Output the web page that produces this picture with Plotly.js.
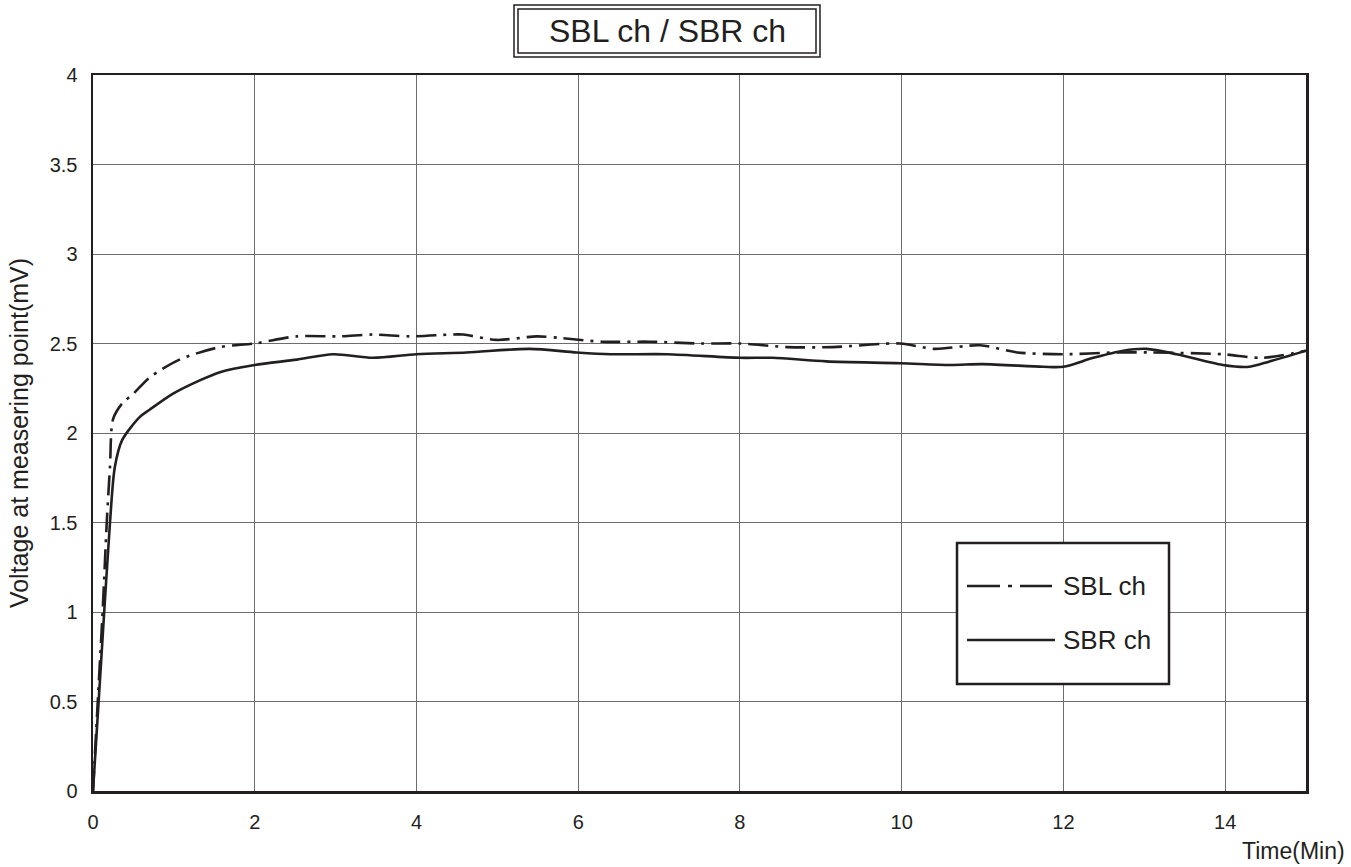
<!DOCTYPE html>
<html>
<head>
<meta charset="utf-8">
<script src="https://cdn.plot.ly/plotly-3.0.1.min.js"></script>
<style>
html,body{margin:0;padding:0;background:#fff;}
#chart{width:1351px;height:867px;}
</style>
</head>
<body>
<div id="chart"></div>
<script>
// SBL ch (dash-dot)
const sblTime = [0, 0.06, 0.12, 0.17, 0.21, 0.25, 0.37, 0.5, 0.7, 1.07, 1.57, 2.0, 2.52, 3.05, 3.46, 3.92, 4.42, 4.58, 4.99, 5.49, 5.8, 6.3, 6.89, 7.5, 8.0, 8.58, 9.15, 9.98, 10.4, 10.97, 11.43, 12.0, 12.66, 13.07, 13.97, 14.46, 15];
const sblVolt = [0, 0.51, 1.01, 1.5, 1.81, 2.08, 2.17, 2.22, 2.31, 2.41, 2.48, 2.50, 2.54, 2.54, 2.55, 2.54, 2.55, 2.55, 2.52, 2.54, 2.53, 2.51, 2.51, 2.50, 2.50, 2.48, 2.48, 2.50, 2.47, 2.49, 2.45, 2.44, 2.45, 2.45, 2.44, 2.42, 2.46];
// SBR ch (solid)
const sbrTime = [0, 0.1, 0.21, 0.27, 0.36, 0.58, 0.7, 0.99, 1.3, 1.57, 2.0, 2.52, 2.97, 3.46, 4.0, 4.62, 5.4, 5.98, 6.4, 7.1, 8.0, 8.4, 9.07, 9.98, 10.6, 11.0, 11.75, 12.0, 12.37, 12.74, 13.03, 13.4, 13.97, 14.3, 14.55, 15];
const sbrVolt = [0, 0.72, 1.5, 1.81, 1.96, 2.09, 2.13, 2.22, 2.29, 2.34, 2.38, 2.41, 2.44, 2.42, 2.44, 2.45, 2.47, 2.45, 2.44, 2.44, 2.42, 2.42, 2.40, 2.39, 2.38, 2.385, 2.37, 2.37, 2.42, 2.46, 2.47, 2.44, 2.38, 2.37, 2.40, 2.46];

const seriesNames = ["SBL ch", "SBR ch"];
const chartTitle = "SBL ch / SBR ch";
const yTickVals = [0, 0.5, 1, 1.5, 2, 2.5, 3, 3.5, 4];
const yTickText = ["0", "0.5", "1", "1.5", "2", "2.5", "3", "3.5", "4"];
const xTickVals = [0, 2, 4, 6, 8, 10, 12, 14];
const xTickText = ["0", "2", "4", "6", "8", "10", "12", "14"];

const FONT = "Liberation Sans, Arial, sans-serif";
const INK = "#231f20";

const traces = [
  {x: sblTime, y: sblVolt, name: seriesNames[0], mode: "lines",
   line: {color: INK, width: 2.6, dash: "20px,7px,3px,7px", shape: "spline", smoothing: 0.8}},
  {x: sbrTime, y: sbrVolt, name: seriesNames[1], mode: "lines",
   line: {color: INK, width: 2.6, shape: "spline", smoothing: 0.8}}
];

// plot area in px: x 93..1306, y 75..791
const L = 93, R = 1306, T = 75, B = 791;
const px = v => (v - L) / (R - L);
const py = v => (B - v) / (B - T);

const shapes = [
  // title double box
  {type: "rect", xref: "paper", yref: "paper", x0: px(514), x1: px(820), y0: py(57), y1: py(5), line: {color: INK, width: 1.5}},
  {type: "rect", xref: "paper", yref: "paper", x0: px(518), x1: px(816), y0: py(53), y1: py(9), line: {color: INK, width: 1.5}},
  // legend box
  {type: "rect", xref: "paper", yref: "paper", x0: px(957), x1: px(1169), y0: py(684), y1: py(543), fillcolor: "#ffffff", line: {color: INK, width: 2.5}, layer: "above"},
  {type: "line", xref: "paper", yref: "paper", x0: px(967), x1: px(1052), y0: py(586), y1: py(586), line: {color: INK, width: 2.6, dash: "33px,8px,4px,8px"}, layer: "above"},
  {type: "line", xref: "paper", yref: "paper", x0: px(967), x1: px(1055), y0: py(640), y1: py(640), line: {color: INK, width: 2.6}, layer: "above"}
];

const annotations = [
  {text: chartTitle, xref: "paper", yref: "paper", x: px(667), y: py(31), xanchor: "center", yanchor: "middle", showarrow: false, font: {family: FONT, size: 32, color: INK}},
  {text: seriesNames[0], xref: "paper", yref: "paper", x: px(1061), y: py(586), xanchor: "left", yanchor: "middle", showarrow: false, font: {family: FONT, size: 26, color: INK}},
  {text: seriesNames[1], xref: "paper", yref: "paper", x: px(1061), y: py(640), xanchor: "left", yanchor: "middle", showarrow: false, font: {family: FONT, size: 26, color: INK}},
  {text: "Time(Min)", xref: "paper", yref: "paper", x: px(1347), y: py(851), xanchor: "right", yanchor: "middle", showarrow: false, font: {family: FONT, size: 23, color: INK}}
];

const layout = {
  width: 1351, height: 867,
  margin: {l: L, r: 1351 - R, t: T, b: 867 - B},
  paper_bgcolor: "#ffffff", plot_bgcolor: "#ffffff",
  showlegend: false,
  font: {family: FONT, color: INK},
  xaxis: {range: [0, 15], tickvals: xTickVals, ticktext: xTickText, showgrid: true, gridcolor: "#6d6d6d", gridwidth: 1,
          showline: true, mirror: true, linecolor: INK, linewidth: 2.5, zeroline: false, ticks: "",
          tickfont: {family: FONT, size: 20, color: INK}, ticklabelstandoff: 11},
  yaxis: {range: [0, 4], tickvals: yTickVals, ticktext: yTickText, showgrid: true, gridcolor: "#6d6d6d", gridwidth: 1,
          showline: true, mirror: true, linecolor: INK, linewidth: 2.5, zeroline: false, ticks: "",
          tickfont: {family: FONT, size: 20, color: INK}, ticklabelstandoff: 9,
          title: {text: "Voltage at measering point(mV)", font: {family: FONT, size: 25, color: INK}, standoff: 14}},
  shapes: shapes,
  annotations: annotations
};

Plotly.newPlot("chart", traces, layout, {displayModeBar: false, staticPlot: true});
</script>
</body>
</html>
